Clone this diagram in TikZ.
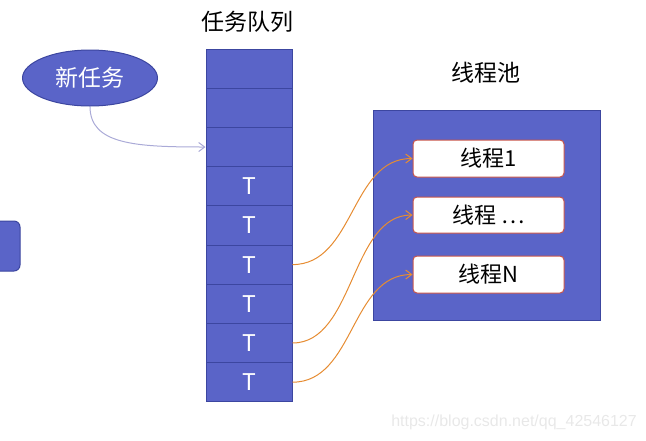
\documentclass[tikz,border=0pt]{standalone}
\usepackage{fontspec}
\setmainfont{Noto Sans CJK SC}
\newfontfamily\wmfont{Liberation Sans}
\usetikzlibrary{arrows.meta,shapes.geometric,calc}
\definecolor{qblue}{RGB}{90,100,200}
\definecolor{qedge}{RGB}{60,70,160}
\definecolor{tred}{RGB}{200,85,75}
\definecolor{oarrow}{RGB}{230,140,50}
\definecolor{larrow}{RGB}{170,170,215}
\definecolor{wmgray}{RGB}{232,232,232}
\tikzset{
  cell/.style={draw=qedge,line width=1pt,fill=qblue,minimum width=86pt,minimum height=39.2pt,inner sep=0pt,text=white,font=\fontsize{23}{23}\selectfont},
  thread/.style={draw=tred,line width=1pt,fill=white,rounded corners=4pt,minimum width=151pt,inner sep=0pt,font=\fontsize{22}{22}\selectfont},
  title/.style={font=\fontsize{23}{23}\selectfont},
  oarr/.style={draw=oarrow,line width=1pt,-{Straight Barb[length=6pt,width=9pt]}},
  larr/.style={draw=larrow,line width=1pt,-{Straight Barb[length=6pt,width=9pt]}}
}
\begin{document}
\begin{tikzpicture}[x=1pt,y=-1pt]
\useasboundingbox (0,0) rectangle (646,440);
% title
\node[title] (qt) at (247,22) {任务队列};
\node[title] (pt) at (486,73) {线程池};
% queue cells
\foreach \i/\t in {1/,2/,3/,4/T,5/T,6/T,7/T,8/T,9/T}{
  \node[cell] (q\i) at (249,{49+39.2*(\i-0.5)}) {\t};
}
% new task ellipse
\node[ellipse,draw=qedge,line width=1pt,fill=qblue,minimum width=135pt,minimum height=56pt,inner sep=0pt,text=white,font=\fontsize{23}{23}\selectfont] (e) at (90,78) {新任务};
% partial left box
\path[draw=qedge,line width=1pt,fill=qblue,rounded corners=6pt] (-10,221) rectangle (20,271);
% pool
\node[draw=qedge,line width=1pt,fill=qblue,minimum width=227pt,minimum height=210pt,inner sep=0pt] (pool) at (486.5,215) {};
\node[thread,minimum height=37pt] (t1) at (488.5,158.5) {线程1};
\node[thread,minimum height=36pt] (t2) at (488.5,215) {线程 …};
\node[thread,minimum height=37pt] (t3) at (488.5,274.5) {线程N};
% arrows
\draw[larr] (e.south) .. controls ($(e.south)+(0,38)$) and ($(q3.west)+(-70,0)$) .. (q3.west);
\draw[oarr] (q6.east) .. controls ($(q6.east)+(62,0)$) and ($(t1.west)+(-62,0)$) .. (t1.west);
\draw[oarr] (q8.east) .. controls ($(q8.east)+(62,0)$) and ($(t2.west)+(-62,0)$) .. (t2.west);
\draw[oarr] (q9.east) .. controls ($(q9.east)+(62,0)$) and ($(t3.west)+(-62,0)$) .. (t3.west);
% watermark
\node[anchor=east,text=wmgray,font=\wmfont\fontsize{16}{16}\selectfont,inner sep=0pt] (wm) at (637,422) {https://blog.csdn.net/qq\_42546127};
\end{tikzpicture}
\end{document}
